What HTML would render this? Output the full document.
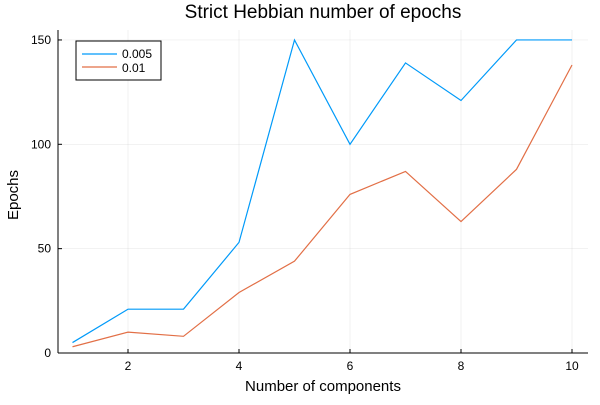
<!DOCTYPE html>
<html><head><meta charset="utf-8"><style>body{margin:0;background:#fff}svg{font-family:"Liberation Sans","DejaVu Sans",sans-serif}</style></head>
<body>
<svg width="600" height="400" xmlns="http://www.w3.org/2000/svg">
<text x="323" y="18" font-size="19" text-anchor="middle">Strict Hebbian number of epochs</text>
<text x="323" y="391" font-size="15" text-anchor="middle">Number of components</text>
<text x="18" y="195" font-size="15" text-anchor="middle" transform="rotate(-90 18 195)">Epochs</text>
<g id="grid"></g><g id="axes"></g><g id="series"></g>
<g>
<rect x="76" y="41" width="85" height="39" fill="#fff" stroke="#000" stroke-width="1"/>
<line x1="82" y1="54" x2="117" y2="54" stroke="#009af9" stroke-width="1.2"/>
<text x="122" y="58" font-size="12">0.005</text>
<line x1="82" y1="67" x2="117" y2="67" stroke="#e26f46" stroke-width="1.2"/>
<text x="122" y="72" font-size="12">0.01</text>
</g>
</svg>
<script>
const categories=[1,2,3,4,5,6,7,8,9,10];
const series005=[5,21,21,53,150,100,139,121,150,150];
const series01=[3,10,8,29,44,76,87,63,88,138];
const xTicks=[2,4,6,8,10];
const yTicks=[0,50,100,150];
const NS="http://www.w3.org/2000/svg";
const X=v=>72.5+(v-1)*55.5;
const Y=v=>353-v*2.087;
const L=58,R=588,T=30,B=353;
function mk(t,a,p){const e=document.createElementNS(NS,t);for(const k in a)e.setAttribute(k,a[k]);p.appendChild(e);return e;}
const grid=document.getElementById('grid'),axes=document.getElementById('axes'),ser=document.getElementById('series');
xTicks.forEach(t=>{
 const g=mk('line',{x1:X(t),x2:X(t),y1:T,y2:B,stroke:'#000','stroke-opacity':0.1,'stroke-width':0.5},grid);
 
 
 mk('line',{x1:X(t),x2:X(t),y1:B,y2:B-4,stroke:'#000'},axes);
 const tx=mk('text',{x:X(t),y:370,'font-size':12,'text-anchor':'middle'},axes);tx.textContent=t;
 
 
});
yTicks.forEach(t=>{
 const g=mk('line',{x1:L,x2:R,y1:Y(t),y2:Y(t),stroke:'#000','stroke-opacity':0.1,'stroke-width':0.5},grid);
 
 
 mk('line',{x1:L,x2:L+4,y1:Y(t),y2:Y(t),stroke:'#000'},axes);
 const tx=mk('text',{x:51,y:Y(t)+4,'font-size':12,'text-anchor':'end'},axes);tx.textContent=t;
 
 
});
const xa=mk('line',{x1:L,x2:R,y1:B,y2:B,stroke:'#000'},axes);


const ya=mk('line',{x1:L,x2:L,y1:T,y2:B,stroke:'#000'},axes);


[[series005,'#009af9','line-0.005'],[series01,'#e26f46','line-0.01']].forEach(([d,c,n])=>{
 const p=mk('polyline',{points:d.map((v,i)=>X(categories[i])+','+Y(v)).join(' '),fill:'none',stroke:c,'stroke-width':1.2},ser);
 
 
});
</script>
</body></html>
